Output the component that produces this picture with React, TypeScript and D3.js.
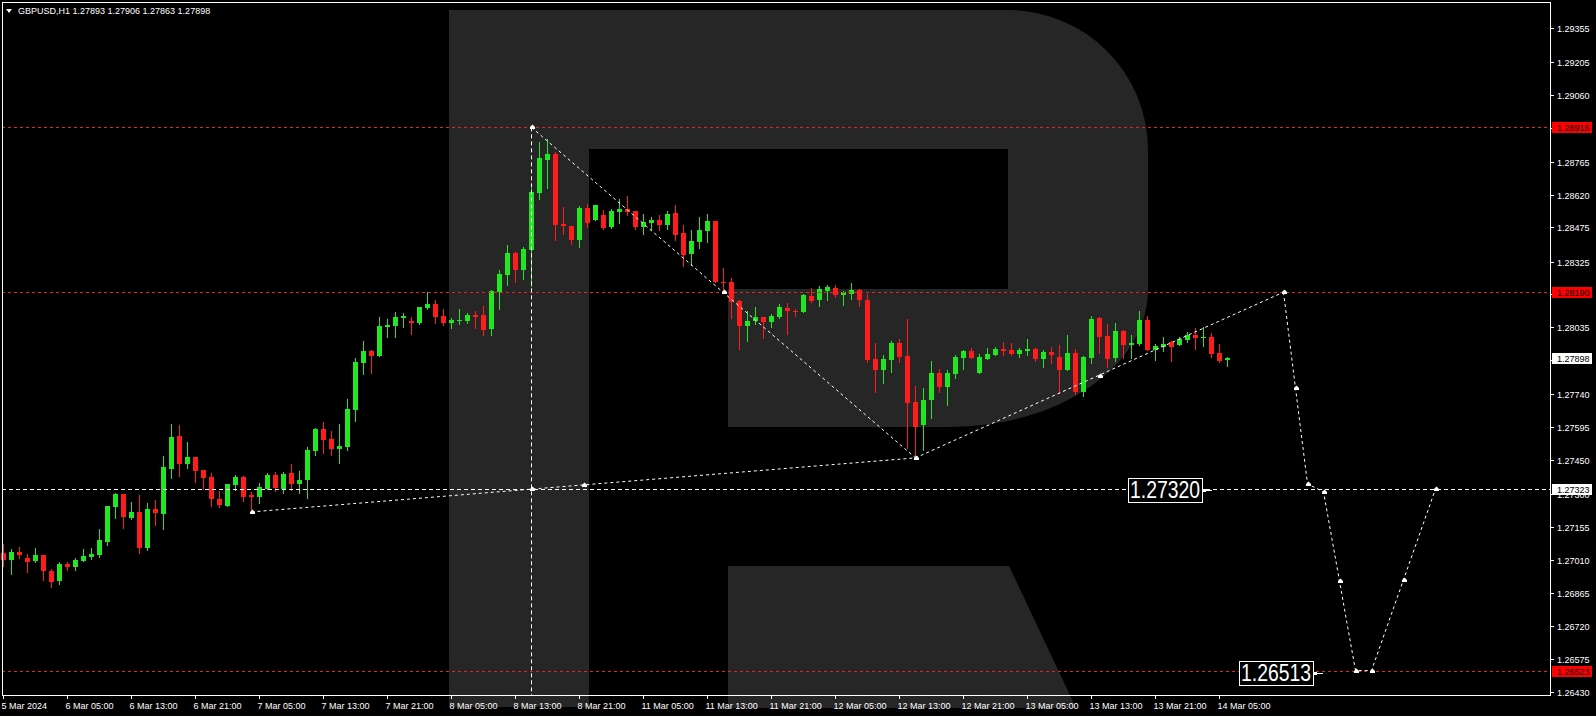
import React from "react";
import * as d3 from "d3";

const W = 1596;
const H = 716;

// ---- candle data (H1 bars, index 0 = 5 Mar 21:00) ----
const opens = [
  1.27041, 1.2701, 1.27045, 1.27019, 1.27006, 1.27032, 1.26962, 1.26918, 1.26993, 1.26981,
  1.27007, 1.27023, 1.27032, 1.2709, 1.27244, 1.27301, 1.27195, 1.27222, 1.27063, 1.27235,
  1.27213, 1.27411, 1.27556, 1.27433, 1.27464, 1.27407, 1.27376, 1.27279, 1.27248, 1.27341,
  1.27376, 1.27296, 1.27288, 1.27323, 1.27385, 1.27323, 1.27393, 1.27345, 1.27363, 1.2749,
  1.27587, 1.27543, 1.27499, 1.27509, 1.27671, 1.27878, 1.27931, 1.27909, 1.28037, 1.28041,
  1.28076, 1.28063, 1.28054, 1.2812, 1.28138, 1.28085, 1.28054, 1.28063, 1.28063, 1.28089,
  1.28089, 1.28028, 1.28191, 1.28266, 1.28363, 1.28288, 1.28376, 1.28627, 1.28772, 1.28799,
  1.2849, 1.28482, 1.2842, 1.28561, 1.28508, 1.2853, 1.28477, 1.28543, 1.28556, 1.28548,
  1.28477, 1.28495, 1.28508, 1.28486, 1.28539, 1.28451, 1.28358, 1.28411, 1.2846, 1.28504,
  1.28235, 1.28235, 1.28151, 1.28041, 1.28063, 1.28081, 1.28059, 1.28081, 1.2812, 1.28107,
  1.28103, 1.28173, 1.28156, 1.28195, 1.28208, 1.28178, 1.28182, 1.282, 1.28156, 1.27896,
  1.27847, 1.27891, 1.27966, 1.27909, 1.27706, 1.27605, 1.27715, 1.27834, 1.27772, 1.27829,
  1.279, 1.27931, 1.27834, 1.27896, 1.27913, 1.2794, 1.27935, 1.27918, 1.27931, 1.2794,
  1.27896, 1.27927, 1.27904, 1.27847, 1.27922, 1.2775, 1.279, 1.28076, 1.27997, 1.279,
  1.28019, 1.27957, 1.27962, 1.28067, 1.27935, 1.27949, 1.27971, 1.27957, 1.27979, 1.28001,
  1.27993, 1.27993, 1.27922, 1.27893,
];
const highs = [
  1.27081, 1.27059, 1.27068, 1.27037, 1.27063, 1.27032, 1.26971, 1.27001, 1.27001, 1.27019,
  1.27059, 1.27063, 1.27147, 1.27248, 1.27305, 1.27301, 1.27266, 1.27297, 1.27261, 1.27275,
  1.27468, 1.27609, 1.27605, 1.2753, 1.27464, 1.27407, 1.27393, 1.27314, 1.27345, 1.27385,
  1.2738, 1.2731, 1.27349, 1.27393, 1.27398, 1.27398, 1.27433, 1.27402, 1.27508, 1.27592,
  1.27618, 1.27578, 1.27609, 1.27719, 1.279, 1.27975, 1.27935, 1.28081, 1.28072, 1.28103,
  1.28098, 1.28081, 1.28125, 1.28191, 1.28156, 1.28116, 1.28076, 1.28116, 1.28098, 1.28107,
  1.28129, 1.282, 1.28288, 1.28398, 1.28367, 1.28389, 1.28649, 1.28852, 1.28865, 1.28807,
  1.28565, 1.28482, 1.2857, 1.28578, 1.28574, 1.28552, 1.28556, 1.286, 1.28614, 1.28548,
  1.28534, 1.28521, 1.2853, 1.28548, 1.28574, 1.28486, 1.28464, 1.28521, 1.28534, 1.28504,
  1.28297, 1.28252, 1.28156, 1.28107, 1.28125, 1.28081, 1.28094, 1.28138, 1.28142, 1.28116,
  1.28182, 1.28208, 1.28217, 1.28222, 1.28222, 1.28195, 1.2823, 1.28204, 1.28182, 1.27966,
  1.27913, 1.27975, 1.27984, 1.28072, 1.27777, 1.27768, 1.27887, 1.27852, 1.27847, 1.27913,
  1.27935, 1.27944, 1.27918, 1.27944, 1.27949, 1.27971, 1.27966, 1.27944, 1.27984, 1.27944,
  1.27935, 1.27949, 1.27957, 1.28001, 1.2794, 1.27909, 1.28085, 1.28081, 1.2805, 1.28054,
  1.28023, 1.28001, 1.28107, 1.28085, 1.27962, 1.27993, 1.27975, 1.27993, 1.28015, 1.28032,
  1.28037, 1.2801, 1.27962, 1.27906,
];
const lows = [
  1.26985, 1.2695, 1.2702, 1.26959, 1.27001, 1.26923, 1.26893, 1.26906, 1.26968, 1.26968,
  1.27007, 1.27015, 1.27025, 1.27076, 1.27195, 1.27153, 1.27191, 1.27041, 1.27054, 1.27164,
  1.27147, 1.27371, 1.2738, 1.27416, 1.27354, 1.27323, 1.27248, 1.27244, 1.27248, 1.27319,
  1.2727, 1.27226, 1.27261, 1.27323, 1.27314, 1.27305, 1.27319, 1.27305, 1.27283, 1.27473,
  1.27482, 1.27473, 1.27437, 1.27495, 1.27622, 1.2783, 1.27834, 1.27909, 1.27993, 1.27993,
  1.28037, 1.28006, 1.2805, 1.28116, 1.28054, 1.28045, 1.28032, 1.2805, 1.28054, 1.28032,
  1.28001, 1.28001, 1.28116, 1.28222, 1.28235, 1.28248, 1.28217, 1.286, 1.28649, 1.2842,
  1.28446, 1.28402, 1.28389, 1.28477, 1.28508, 1.28468, 1.28473, 1.28495, 1.2853, 1.28468,
  1.28446, 1.28468, 1.28464, 1.28468, 1.2842, 1.28305, 1.2831, 1.28385, 1.28411, 1.28235,
  1.282, 1.28076, 1.2794, 1.27975, 1.2805, 1.27988, 1.28037, 1.28076, 1.28006, 1.28085,
  1.28103, 1.28147, 1.28129, 1.28156, 1.28169, 1.28134, 1.2816, 1.28129, 1.27882, 1.2775,
  1.2779, 1.27838, 1.27882, 1.27504, 1.27455, 1.27495, 1.27636, 1.2775, 1.27693, 1.27812,
  1.27852, 1.279, 1.27834, 1.27896, 1.27913, 1.27913, 1.27913, 1.27904, 1.27913, 1.27887,
  1.2786, 1.27878, 1.27746, 1.27847, 1.27741, 1.27733, 1.27878, 1.27922, 1.2786, 1.27887,
  1.279, 1.279, 1.27957, 1.27935, 1.27891, 1.27931, 1.27887, 1.27957, 1.27971, 1.2794,
  1.27953, 1.27904, 1.27882, 1.27863,
];
const closes = [
  1.2701, 1.27045, 1.27032, 1.27001, 1.27032, 1.26962, 1.26915, 1.26993, 1.26981, 1.2701,
  1.27028, 1.27037, 1.27098, 1.27248, 1.27301, 1.27201, 1.27222, 1.27063, 1.27235, 1.27217,
  1.2742, 1.27552, 1.27433, 1.27464, 1.27402, 1.27371, 1.27279, 1.27253, 1.27345, 1.27376,
  1.27288, 1.27288, 1.27332, 1.27385, 1.27327, 1.27389, 1.27345, 1.27363, 1.27495, 1.27587,
  1.27539, 1.27499, 1.27512, 1.27675, 1.27882, 1.27931, 1.27909, 1.28041, 1.28045, 1.28081,
  1.28085, 1.28054, 1.28125, 1.28138, 1.28081, 1.28054, 1.28067, 1.28067, 1.28089, 1.28081,
  1.28023, 1.28195, 1.2827, 1.28363, 1.28288, 1.2838, 1.28631, 1.28781, 1.28799, 1.28486,
  1.28482, 1.2842, 1.28561, 1.28495, 1.28574, 1.28473, 1.28548, 1.28556, 1.28543, 1.28477,
  1.28499, 1.28508, 1.28486, 1.28534, 1.28442, 1.28354, 1.28415, 1.28464, 1.28504, 1.28235,
  1.2823, 1.28148, 1.28041, 1.28063, 1.28081, 1.28059, 1.28085, 1.28125, 1.28107, 1.28105,
  1.28178, 1.28151, 1.28204, 1.28213, 1.28178, 1.28191, 1.282, 1.28156, 1.27891, 1.27847,
  1.27896, 1.27966, 1.27904, 1.27702, 1.27596, 1.27715, 1.27834, 1.27772, 1.27834, 1.27904,
  1.27931, 1.279, 1.27904, 1.27918, 1.2794, 1.27931, 1.27918, 1.27935, 1.2794, 1.27896,
  1.27927, 1.27913, 1.27847, 1.27922, 1.2775, 1.27904, 1.28072, 1.27993, 1.27896, 1.28019,
  1.27957, 1.27966, 1.28067, 1.27935, 1.27953, 1.27962, 1.27949, 1.27984, 1.28001, 1.27988,
  1.27993, 1.27918, 1.27887, 1.27898,
];

const timeLabels = [
  "5 Mar 2024", "6 Mar 05:00", "6 Mar 13:00", "6 Mar 21:00", "7 Mar 05:00", "7 Mar 13:00",
  "7 Mar 21:00", "8 Mar 05:00", "8 Mar 13:00", "8 Mar 21:00", "11 Mar 05:00", "11 Mar 13:00",
  "11 Mar 21:00", "12 Mar 05:00", "12 Mar 13:00", "12 Mar 21:00", "13 Mar 05:00", "13 Mar 13:00",
  "13 Mar 21:00", "14 Mar 05:00",
];
const barsPerTimeLabel = 8;

const priceTicks = [
  1.29355, 1.29205, 1.2906, 1.28915, 1.28765, 1.2862, 1.28475, 1.28325, 1.2818, 1.28035,
  1.2789, 1.2774, 1.27595, 1.2745, 1.273, 1.27155, 1.2701, 1.26865, 1.2672, 1.26575, 1.2643,
];

const symbolTitle = "GBPUSD,H1";
const lastBarQuote = [1.27893, 1.27906, 1.27863, 1.27898];
const currentPrice = 1.27898;
const redLevels = [1.28916, 1.2819, 1.26523];
const whiteLevel = 1.27323;
const peakBar = 66;
const peakPrice = 1.28916;

// wave lines [barIndex, price]
const waveUp: [number, number][] = [[31, 1.27222], [114, 1.2746], [160, 1.2819]];
const waveDown: [number, number][] = [[66, 1.28916], [114, 1.2746]];
const forecastPath: [number, number][] = [
  [160, 1.2819], [163, 1.27345], [165, 1.27311], [169, 1.26523], [171, 1.26523], [179, 1.27323],
];
const arrowPoints: [number, number][] = [
  [31, 1.27222], [66, 1.27323], [72.5, 1.27341], [66, 1.28916], [90, 1.2819], [114, 1.2746],
  [137, 1.27821], [160, 1.2819], [161.5, 1.27768], [163, 1.27345], [165, 1.27311],
  [167, 1.26919], [169, 1.26523], [171, 1.26523], [175, 1.26922], [179, 1.27323],
];
const targetLabels = [
  { text: "1.27320", price: 1.2732, bar: 149.8 },
  { text: "1.26513", price: 1.26513, bar: 163.7 },
];

// ---- layout ----
const frame = { left: 2, top: 2, right: 1550, bottom: 695 };
const GREEN = "#22e622";
const RED = "#ff1c1c";
const LEVEL_RED = "#e62222";
const WM = "#262626";
const FONT = "'Liberation Sans', Arial, sans-serif";

const xS = d3.scaleLinear().domain([0, 1]).range([3.5, 11.5]);
const yS = d3.scaleLinear().domain([1.2643, 1.29355]).range([691.7, 27.7]);

const R_PATH =
  "M449,10 H1008 A140,140 0 0 1 1148,150 V290 A198,137 0 0 1 950,427 H728 V289 H1008 V149 H589 V707 H449 Z " +
  "M728,566 H1009 L1076,708 H728 Z";

const line = d3
  .line<[number, number]>()
  .x((d) => xS(d[0]))
  .y((d) => yS(d[1]));

function Arrow({ x, y }: { x: number; y: number }) {
  const px = Math.round(x);
  const py = Math.round(y);
  return (
    <path
      d={`M${px - 2},${py + 2} H${px + 3} V${py} L${px + 0.5},${py - 2.5} L${px - 2},${py} Z`}
      fill="#fff"
    />
  );
}

export default function App() {
  const n = closes.length;
  const crisp = (v: number) => Math.round(v) + 0.5;

  return (
    <div style={{ position: "absolute", left: 0, top: 0, width: W, height: H, background: "#000" }}>
      <svg width={W} height={H} style={{ display: "block" }} fontFamily={FONT}>
        <rect x={0} y={0} width={W} height={H} fill="#000" />
        {/* watermark */}
        <path d={R_PATH} fill={WM} />

        {/* candles */}
        <g>
          {d3.range(n).map((i) => {
            const o = opens[i], c = closes[i], h = highs[i], l = lows[i];
            const up = c >= o;
            const col = up ? GREEN : RED;
            const cx = Math.floor(xS(i)) + 0.5;
            const top = Math.round(yS(Math.max(o, c)));
            const bot = Math.round(yS(Math.min(o, c)));
            return (
              <g key={i}>
                <line x1={cx} x2={cx} y1={Math.round(yS(h))} y2={Math.round(yS(l)) + 1} stroke={col} strokeWidth={1} />
                <rect x={cx - 2.5} y={top} width={5} height={Math.max(1, bot - top)} fill={col} />
              </g>
            );
          })}
        </g>

        {/* level lines */}
        {redLevels.map((p, i) => (
          <line key={i} x1={frame.left} x2={frame.right} y1={crisp(yS(p))} y2={crisp(yS(p))}
            stroke={LEVEL_RED} strokeWidth={1} strokeDasharray="3,3" />
        ))}
        <line x1={frame.left} x2={frame.right} y1={crisp(yS(whiteLevel))} y2={crisp(yS(whiteLevel))}
          stroke="#fff" strokeWidth={1} strokeDasharray="4,3" />
        <line x1={Math.floor(xS(peakBar)) + 0.5} x2={Math.floor(xS(peakBar)) + 0.5}
          y1={yS(peakPrice)} y2={frame.bottom} stroke="#fff" strokeWidth={1} strokeDasharray="4,3" />

        {/* wave lines */}
        {[waveUp, waveDown, forecastPath].map((pts, i) => (
          <path key={i} d={line(pts) || ""} fill="none" stroke="#fff" strokeWidth={1} strokeDasharray="3,3" />
        ))}
        {arrowPoints.map((p, i) => (
          <Arrow key={i} x={xS(p[0])} y={yS(p[1])} />
        ))}

        {/* target labels */}
        {targetLabels.map((t, i) => {
          const right = Math.round(xS(t.bar));
          const cy = yS(t.price);
          const bw = 74, bh = 24;
          return (
            <g key={i}>
              <rect x={right - bw + 0.5} y={Math.round(cy - bh / 2) + 0.5} width={bw} height={bh}
                fill="#000" stroke="#fff" strokeWidth={1} />
              <text x={right - bw / 2} y={cy + 8.5} fill="#fff" fontSize={23} textAnchor="middle"
                textLength={70} lengthAdjust="spacingAndGlyphs">{t.text}</text>
              <line x1={right} x2={right + 10} y1={Math.round(cy) + 0.5} y2={Math.round(cy) + 0.5} stroke="#fff" />
              <rect x={right + 1} y={Math.round(cy) - 1} width={3} height={3} fill="#fff" />
            </g>
          );
        })}

        {/* frame */}
        <rect x={frame.left + 0.5} y={frame.top + 0.5} width={frame.right - frame.left}
          height={frame.bottom - frame.top} fill="none" stroke="#fff" strokeWidth={1} />

        {/* price axis */}
        {priceTicks.map((v, i) => {
          const y = Math.round(yS(v));
          return (
            <g key={i}>
              <line x1={frame.right} x2={frame.right + 4} y1={y + 0.5} y2={y + 0.5} stroke="#fff" />
              <text x={1557} y={y + 3.5} fill="#fff" fontSize={9}>{v.toFixed(5)}</text>
            </g>
          );
        })}
        {redLevels.map((p, i) => {
          const y = Math.round(yS(p));
          return (
            <g key={i}>
              <rect x={1552} y={y - 5} width={40} height={11} fill="#ff0000" />
              <text x={1557} y={y + 3.5} fill="#000" fontSize={9}>{p.toFixed(5)}</text>
            </g>
          );
        })}
        {[whiteLevel, currentPrice].map((p, i) => {
          const y = Math.round(yS(p));
          return (
            <g key={i}>
              <rect x={1552} y={y - 5} width={40} height={11} fill="#fff" />
              <text x={1557} y={y + 3.5} fill="#000" fontSize={9}>{p.toFixed(5)}</text>
            </g>
          );
        })}

        {/* time axis */}
        {timeLabels.map((lbl, k) => {
          const x = Math.floor(xS(k * barsPerTimeLabel)) + 0.5;
          return (
            <g key={k}>
              <line x1={x} x2={x} y1={frame.bottom} y2={frame.bottom + 4} stroke="#fff" />
              <text x={x - 2} y={709} fill="#fff" fontSize={9}>{lbl}</text>
            </g>
          );
        })}

        {/* header */}
        <path d="M6,9 H12 L9,13 Z" fill="#fff" />
        <text x={18} y={14} fill="#fff" fontSize={9}>
          {`${symbolTitle}  ${lastBarQuote.map((v) => v.toFixed(5)).join(" ")}`}
        </text>
      </svg>
    </div>
  );
}
